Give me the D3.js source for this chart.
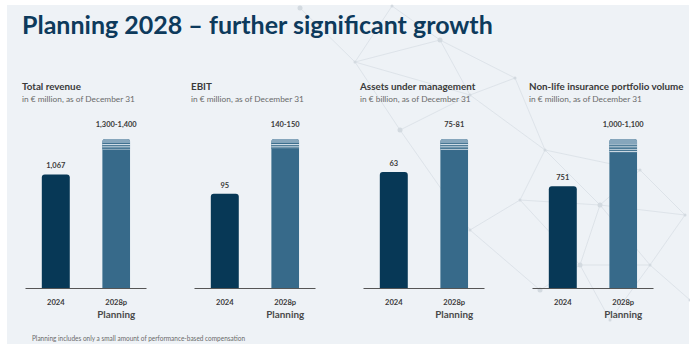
<!DOCTYPE html>
<html>
<head>
<meta charset="utf-8">
<script src="https://cdn.jsdelivr.net/npm/d3@7"></script>
<style>
  html, body { margin: 0; padding: 0; background: #ffffff; }
  svg { display: block; }
  text { font-family: Lato, "Open Sans", sans-serif; }
</style>
</head>
<body>
<svg id="chart" width="690" height="344"></svg>
<script>
// ---- data ----
const pageTitle = "Planning 2028 – further significant growth";
const panelTitles = ["Total revenue", "EBIT", "Assets under management", "Non-life insurance portfolio volume"];
const panelUnits = [
  "in € million, as of December 31",
  "in € million, as of December 31",
  "in € billion, as of December 31",
  "in € million, as of December 31"
];
const categories = ["2024", "2028p"];
const values2024 = [1067, 95, 63, 751];
const planLow = [1300, 140, 75, 1000];
const planHigh = [1400, 150, 81, 1100];
const labels2024 = ["1,067", "95", "63", "751"];
const planLabels = ["1,300-1,400", "140-150", "75-81", "1,000-1,100"];
const planSubLabel = "Planning";
const footnote = "Planning includes only a small amount of performance-based compensation";

// decorative network in the background
const netNodes = [
  [300, 8], [392, 6], [355, 62], [440, 40], [470, 95], [515, 78], [400, 130],
  [545, 150], [520, 200], [600, 205], [640, 170], [685, 215], [580, 265],
  [650, 265], [690, 300], [540, 290], [470, 230], [610, 320]
];
const netEdges = [
  [0, 2], [1, 2], [1, 3], [2, 3], [3, 4], [2, 4], [4, 5], [3, 5], [4, 6], [2, 6],
  [5, 7], [4, 7], [7, 8], [7, 9], [8, 9], [9, 10], [7, 10], [10, 11], [9, 11],
  [9, 12], [9, 13], [12, 13], [13, 14], [11, 13], [12, 15], [8, 16], [16, 15],
  [12, 17], [13, 17], [8, 12], [6, 16]
];

// ---- colours ----
const C = {
  bg: "#eef2f6",
  title: "#0d3a5c",
  dark: "#073856",
  plan: "#376a8a",
  planLight: "#86a6bc",
  stripe: "#dfe8ef",
  text: "#3a3a3a",
  sub: "#6a6a6a",
  axis: "#555555",
  net: "#c8d0d8"
};

const svg = d3.select("#chart");
const W = 690, H = 344;

// font size that makes a sample string span a given width
const probe = svg.append("text").attr("x", -1000).attr("y", -1000);
function sizeFor(str, weight, width) {
  probe.attr("font-weight", weight).attr("font-size", 10).text(str);
  return 10 * width / probe.node().getComputedTextLength();
}
const fsTitle = sizeFor(pageTitle, 700, 471);
const fsHead = sizeFor("Total revenue", 700, 59);
const fsUnit = sizeFor(panelUnits[0], 400, 113);
const fsValue = sizeFor("1,300-1,400", 700, 41);
const fsCat = sizeFor("2024", 700, 17.6);
const fsPlan = sizeFor(planSubLabel, 700, 38);
probe.remove();

// page background with thin white frame
svg.append("rect").attr("x", 7).attr("y", 5).attr("width", W - 8).attr("height", H - 5).attr("fill", C.bg);

// background network
const net = svg.append("g").attr("opacity", 0.7);
net.selectAll("line").data(netEdges).join("line")
  .attr("x1", d => netNodes[d[0]][0]).attr("y1", d => netNodes[d[0]][1])
  .attr("x2", d => netNodes[d[1]][0]).attr("y2", d => netNodes[d[1]][1])
  .attr("stroke", C.net).attr("stroke-width", 0.6);
net.selectAll("circle").data(netNodes).join("circle")
  .attr("cx", d => d[0]).attr("cy", d => d[1]).attr("r", (d, i) => i % 3 === 0 ? 2.5 : 1.5)
  .attr("fill", C.net);

// stripe pattern for the planning range
const defs = svg.append("defs");
const pat = defs.append("pattern").attr("id", "stripes")
  .attr("patternUnits", "userSpaceOnUse").attr("width", 4).attr("height", 2.4);
pat.append("rect").attr("width", 4).attr("height", 2.4).attr("fill", C.plan);
pat.append("rect").attr("width", 4).attr("height", 1).attr("fill", C.stripe);

// title
svg.append("text").attr("x", 22).attr("y", 34)
  .attr("font-weight", 700).attr("font-size", fsTitle).attr("fill", C.title).text(pageTitle);

// panel placement
const panelScale = d3.scaleBand().domain(d3.range(panelTitles.length)).range([22, 22 + 4 * 169]);
const baseY = 288, topY = 139, axisW = 121;

function barPath(x, w, yTop, yBase, r) {
  const p = d3.path();
  p.moveTo(x, yBase);
  p.lineTo(x, yTop + r);
  p.quadraticCurveTo(x, yTop, x + r, yTop);
  p.lineTo(x + w - r, yTop);
  p.quadraticCurveTo(x + w, yTop, x + w, yTop + r);
  p.lineTo(x + w, yBase);
  p.closePath();
  return p.toString();
}

panelTitles.forEach((t, i) => {
  const px = panelScale(i);
  const g = svg.append("g");

  g.append("text").attr("x", px).attr("y", 90)
    .attr("font-weight", 700).attr("font-size", fsHead).attr("fill", C.text).text(t);
  g.append("text").attr("x", px).attr("y", 101.5)
    .attr("font-size", fsUnit).attr("fill", C.sub).text(panelUnits[i]);

  const x0 = px + 3.5;
  const x = d3.scaleBand().domain(categories).range([x0, x0 + axisW])
    .paddingInner(0.537).paddingOuter(0.27);
  const y = d3.scaleLinear().domain([0, planHigh[i]]).range([baseY, topY]);
  const bw = x.bandwidth();

  // 2024 bar
  g.append("path").attr("d", barPath(x("2024"), bw, y(values2024[i]), baseY, 3)).attr("fill", C.dark);
  g.append("text").attr("x", x("2024") + bw / 2).attr("y", y(values2024[i]) - 6)
    .attr("text-anchor", "middle").attr("font-weight", 700).attr("font-size", fsValue)
    .attr("fill", C.text).text(labels2024[i]);

  // planning bar with range band
  const clipId = "clip" + i;
  defs.append("clipPath").attr("id", clipId)
    .append("path").attr("d", barPath(x("2028p"), bw, y(planHigh[i]), baseY, 3));
  const pb = g.append("g").attr("clip-path", `url(#${clipId})`);
  pb.append("rect").attr("x", x("2028p")).attr("width", bw)
    .attr("y", y(planHigh[i])).attr("height", baseY - y(planHigh[i])).attr("fill", C.plan);
  const yHi = y(planHigh[i]), yLo = y(planLow[i]);
  const split = yHi + (yLo - yHi) * 0.4;
  pb.append("rect").attr("x", x("2028p")).attr("width", bw)
    .attr("y", yHi).attr("height", split - yHi).attr("fill", C.planLight);
  pb.append("rect").attr("x", x("2028p")).attr("width", bw)
    .attr("y", split).attr("height", yLo - split).attr("fill", "url(#stripes)");

  g.append("text").attr("x", x("2028p") + bw / 2).attr("y", yHi - 12)
    .attr("text-anchor", "middle").attr("font-weight", 700).attr("font-size", fsValue)
    .attr("fill", C.text).text(planLabels[i]);

  // baseline
  g.append("line").attr("x1", x0).attr("x2", x0 + axisW).attr("y1", baseY + 0.5).attr("y2", baseY + 0.5)
    .attr("stroke", C.axis).attr("stroke-width", 1);

  // category labels
  categories.forEach(c => {
    g.append("text").attr("x", x(c) + bw / 2).attr("y", 304.5)
      .attr("text-anchor", "middle").attr("font-weight", 700).attr("font-size", fsCat)
      .attr("fill", C.text).text(c);
  });
  g.append("text").attr("x", x("2028p") + bw / 2).attr("y", 317.5)
    .attr("text-anchor", "middle").attr("font-weight", 700).attr("font-size", fsPlan)
    .attr("fill", "#4a4a4a").text(planSubLabel);
});

// footnote, set in a condensed run to its line length
svg.append("text").attr("x", 32).attr("y", 340.5)
  .attr("font-size", 7.4).attr("fill", C.sub)
  .attr("textLength", 213).attr("lengthAdjust", "spacingAndGlyphs")
  .text(footnote);
</script>
</body>
</html>
